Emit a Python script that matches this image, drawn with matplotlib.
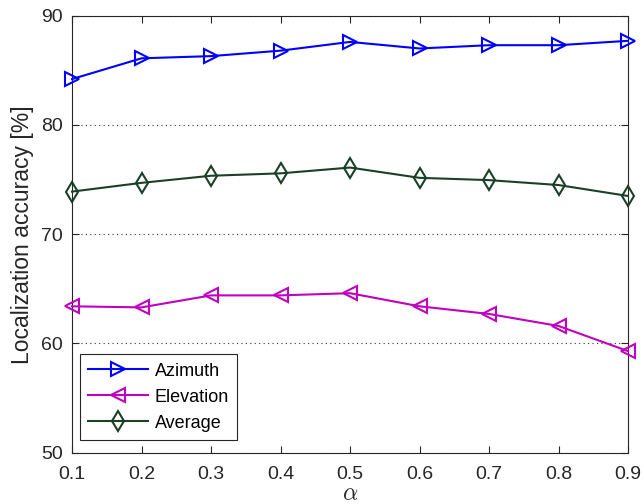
import matplotlib
matplotlib.use("Agg")
import matplotlib.pyplot as plt

plt.rcParams['font.family'] = ['Liberation Sans', 'DejaVu Sans']
plt.rcParams['mathtext.fontset'] = 'cm'

alpha = [0.1, 0.2, 0.3, 0.4, 0.5, 0.6, 0.7, 0.8, 0.9]
azimuth = [84.2, 86.1, 86.3, 86.8, 87.6, 87.0, 87.3, 87.3, 87.7]
elevation = [63.4, 63.3, 64.4, 64.4, 64.6, 63.4, 62.7, 61.6, 59.3]
average = [73.9, 74.7, 75.35, 75.57, 76.1, 75.16, 74.95, 74.5, 73.5]
yticks = [50, 60, 70, 80, 90]

fig = plt.figure(figsize=(6.44, 5.04), dpi=100)
ax = fig.add_axes([72 / 644, 1 - 452.7 / 504, 556 / 644, 437 / 504])

common = dict(markersize=10, mfc='none', mew=1.5, lw=1.5, clip_on=False, zorder=3)
ax.plot(alpha, azimuth, color='#0000ff', marker='>', label='Azimuth', **common)
ax.plot(alpha, elevation, color='#c000c0', marker='<', label='Elevation', **common)
ax.plot(alpha, average, color='#1b4028', marker='d', label='Average', **common)

ax.set_xlim(0.1, 0.9)
ax.set_ylim(50, 90)
ax.set_xticks(alpha)
ax.set_xticklabels([f"{a:.1f}" for a in alpha])
ax.set_yticks(yticks)
ax.yaxis.grid(True, linestyle=(0, (1, 3)), color='#333333', lw=0.8)
ax.tick_params(direction='in', top=True, right=True, labelsize=14, length=5,
               color='#262626', labelcolor='#262626')
ax.tick_params(axis='x', pad=9.5)
ax.tick_params(axis='y', pad=6.5)
for s in ax.spines.values():
    s.set_color('#262626')
    s.set_linewidth(0.8)
ax.set_ylabel('Localization accuracy [%]', fontsize=16.5, color='#262626', labelpad=5)
ax.set_xlabel(r'$\alpha$', fontsize=17, labelpad=0, color='#262626')

leg = ax.legend(loc='lower left', bbox_to_anchor=(0.0144, 0.0297), borderaxespad=0,
                fontsize=13, frameon=True, fancybox=False, edgecolor='#262626',
                handlelength=3.3, handletextpad=0.4, labelspacing=0.5,
                borderpad=0.45, numpoints=1, framealpha=1)
leg.get_frame().set_linewidth(0.8)

fig.savefig('out.png', dpi=100)
